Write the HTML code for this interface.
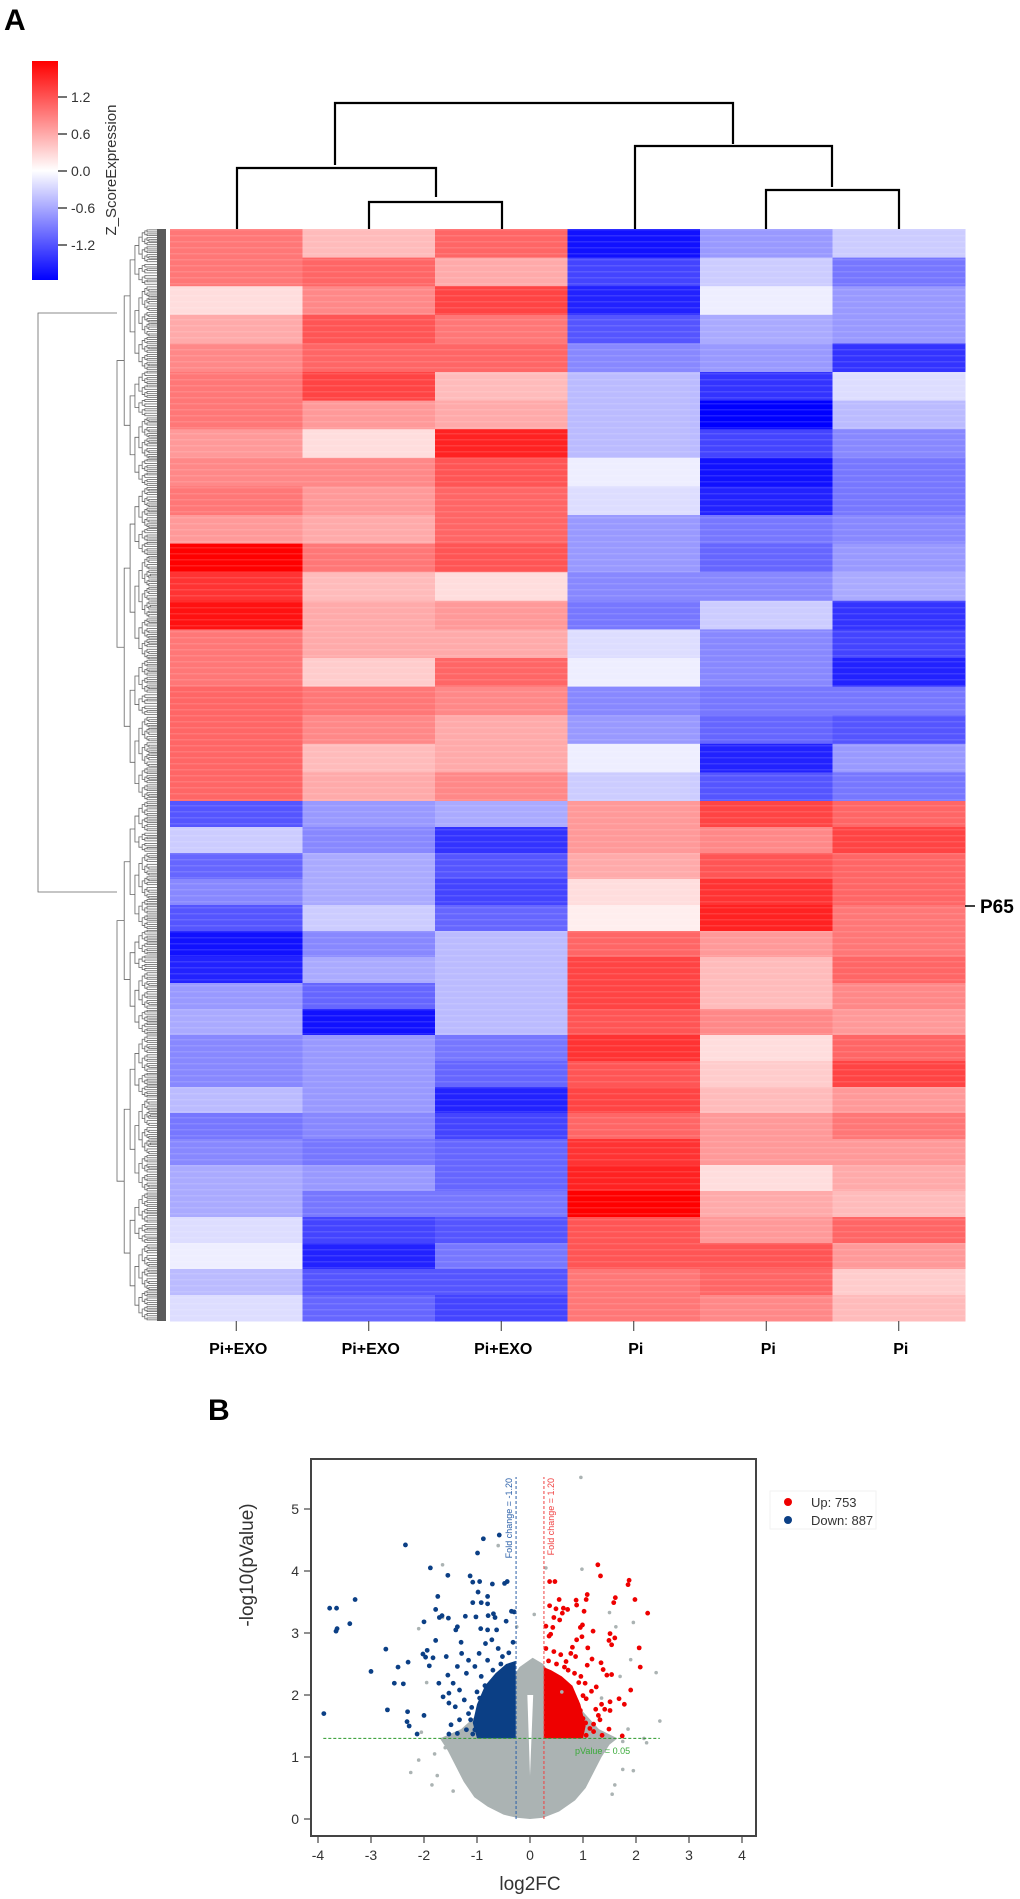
<!DOCTYPE html>
<html><head><meta charset="utf-8">
<style>
html,body{margin:0;padding:0;background:#fff;}
svg{display:block;font-family:"Liberation Sans",sans-serif;}
</style></head>
<body>
<svg id="fig" width="1020" height="1899" viewBox="0 0 1020 1899">
  <defs>
    <linearGradient id="cbGrad" x1="0" y1="0" x2="0" y2="1">
      <stop offset="0" stop-color="#ff0000"/>
      <stop offset="0.5" stop-color="#ffffff"/>
      <stop offset="1" stop-color="#0000ff"/>
    </linearGradient>
  </defs>
  <text x="4" y="30" font-size="30" font-weight="bold" fill="#000">A</text>
  <g>
    <rect x="32" y="61" width="26" height="219" fill="url(#cbGrad)"/>
    <g id="cbTicks"></g>
    <text transform="translate(116,170) rotate(-90)" text-anchor="middle" font-size="15" fill="#333">Z_ScoreExpression</text>
  </g>
  <g id="colDendro" stroke="#000" stroke-width="2.2" fill="none"></g>
  <g id="rowDendro" stroke="#666" stroke-width="0.8" fill="none"></g>
  <rect x="157" y="229" width="9" height="1092" fill="#5a5a5a"/>
  <g id="heat"></g>
  <g id="colLabels"></g>
  <line x1="965" y1="906" x2="975" y2="906" stroke="#000" stroke-width="1.5"/>
  <text x="980" y="913" font-size="19" font-weight="bold">P65</text>

  <text x="208" y="1420" font-size="30" font-weight="bold" fill="#000">B</text>
  <g id="volcano"></g>
</svg>
<script>
// ---------- Heatmap data ----------
const hmColumns = ["Pi+EXO","Pi+EXO","Pi+EXO","Pi","Pi","Pi"];
const hmTopCluster = [
 [0.8,0.8,0.2,0.5,0.7,0.8,0.8,0.6,0.7,0.8,0.6,1.5,1.2,1.4,0.8,0.8,0.9,0.9,0.9,0.9],
 [0.4,0.9,0.7,1.0,0.9,1.1,0.6,0.2,0.7,0.6,0.5,0.8,0.4,0.5,0.5,0.3,0.8,0.7,0.4,0.5],
 [0.9,0.5,1.1,0.8,0.9,0.4,0.5,1.3,1.0,0.9,0.9,1.0,0.2,0.6,0.5,0.9,0.7,0.5,0.5,0.7],
 [-1.4,-1.1,-1.3,-1.0,-0.7,-0.4,-0.4,-0.4,-0.1,-0.2,-0.6,-0.6,-0.7,-0.8,-0.2,-0.1,-0.7,-0.6,-0.1,-0.3],
 [-0.6,-0.3,-0.1,-0.5,-0.6,-1.2,-1.5,-1.1,-1.4,-1.3,-0.8,-0.9,-0.7,-0.3,-0.7,-0.7,-0.8,-0.9,-1.3,-1.0],
 [-0.3,-0.8,-0.6,-0.6,-1.2,-0.2,-0.4,-0.7,-0.8,-0.8,-0.7,-0.6,-0.5,-1.2,-1.1,-1.3,-0.8,-1.0,-0.6,-0.8]
];
const hmBottomCluster = [
 [-1.0,-0.3,-0.9,-0.7,-1.0,-1.4,-1.3,-0.6,-0.5,-0.7,-0.7,-0.4,-0.8,-0.7,-0.5,-0.5,-0.2,-0.1,-0.4,-0.2],
 [-0.6,-0.7,-0.5,-0.5,-0.3,-0.7,-0.5,-0.9,-1.4,-0.6,-0.6,-0.6,-0.7,-0.8,-0.6,-0.8,-1.1,-1.3,-1.0,-0.9],
 [-0.5,-1.2,-1.0,-1.1,-0.9,-0.4,-0.4,-0.4,-0.4,-0.8,-0.9,-1.3,-1.1,-0.9,-0.9,-0.8,-1.0,-0.8,-1.0,-1.1],
 [0.6,0.6,0.5,0.2,0.1,0.9,1.1,1.1,1.0,1.2,1.0,1.1,0.9,1.2,1.3,1.5,1.0,1.0,0.8,0.8],
 [1.1,0.7,1.0,1.2,1.3,0.6,0.4,0.4,0.7,0.2,0.3,0.4,0.6,0.6,0.2,0.5,0.6,1.0,0.9,0.7],
 [0.9,1.1,0.9,0.9,0.8,0.8,0.9,0.7,0.6,0.9,1.1,0.6,0.8,0.6,0.5,0.4,0.9,0.6,0.3,0.4]
];
const cbTickValues = [1.2,0.6,0.0,-0.6,-1.2];
const cbTickLabels = ["1.2","0.6","0.0","-0.6","-1.2"];

// ---------- Volcano data ----------
const xTicks = [-4,-3,-2,-1,0,1,2,3,4];
const yTicks = [0,1,2,3,4,5];
const downX = [-3.89,-3.78,-3.65,-3.66,-3.64,-3.30,-3.40,-3.00,-2.72,-2.69,-2.56,-2.49,-2.39,-2.35,-2.30,-2.31,-2.32,-2.28,-2.13,-2.00,-2.02,-1.97,-1.94,-2.00,-1.88,-1.83,-1.90,-1.78,-1.78,-1.74,-1.71,-1.66,-1.55,-1.54,-1.72,-1.64,-1.53,-1.58,-1.55,-1.37,-1.40,-1.30,-1.22,-1.13,-1.08,-0.95,-0.99,-0.98,-0.88,-0.71,-0.58,-0.48,-0.43,-1.08,-0.92,-0.80,-0.80,-1.02,-0.79,-0.69,-0.66,-0.35,-0.30,-0.93,-0.80,-0.63,-0.45,-1.29,-1.16,-1.37,-1.20,-1.45,-1.33,-1.53,-1.24,-1.41,-1.16,-1.33,-1.49,-1.20,-1.37,-1.53,-1.08,-0.96,-0.84,-0.72,-1.04,-0.92,-0.80,-0.60,-0.52,-1.04,-1.12,-0.85,-0.70,-0.55,-0.40,-0.32,-0.95,-1.10,-1.00];
const downY = [1.70,3.40,3.40,3.03,3.07,3.54,3.15,2.38,2.74,1.76,2.19,2.45,2.18,4.42,2.53,1.73,1.57,1.50,1.37,1.67,2.66,2.61,2.72,3.18,4.05,2.60,2.47,2.88,3.38,3.59,3.25,3.28,3.93,3.24,2.19,1.97,1.87,2.62,2.32,3.10,3.05,2.85,3.27,3.92,3.82,3.83,4.29,3.66,4.52,3.79,4.58,3.80,3.83,3.49,3.49,3.47,3.59,3.26,3.28,3.31,3.25,3.35,3.34,3.07,3.05,3.05,3.19,2.67,2.56,2.46,2.35,2.19,2.08,2.03,1.92,1.81,1.70,1.60,1.52,1.44,1.38,1.37,1.37,2.67,2.83,2.89,2.46,2.30,2.56,2.75,2.62,1.44,1.60,2.15,2.40,2.50,2.68,2.85,1.95,1.80,2.05];
const upX = [1.28,1.33,1.87,1.85,1.98,2.22,1.61,1.58,2.06,2.08,1.90,1.78,1.68,1.51,1.60,1.49,1.54,1.08,1.06,0.87,1.02,0.88,0.37,0.47,0.55,0.37,0.49,0.63,0.71,0.61,0.45,0.56,0.30,0.43,0.39,0.36,0.95,0.99,1.19,0.98,0.88,0.80,1.09,1.17,1.34,1.08,1.38,1.54,1.45,1.25,1.04,0.92,1.16,1.00,1.06,1.35,1.51,1.24,1.51,1.29,1.32,1.41,1.20,1.13,1.20,1.49,1.36,1.74,0.77,0.86,0.68,0.58,0.72,0.84,0.96,0.80,0.88,0.76,1.00,0.88,1.06,0.35,0.50,0.65,0.30,0.45,0.95,1.05];
const upY = [4.10,3.92,3.85,3.78,3.54,3.32,3.57,3.49,2.76,2.45,2.08,1.85,1.94,2.99,2.92,2.88,2.81,3.62,3.54,3.53,3.35,3.45,3.83,3.83,3.54,3.44,3.39,3.40,3.38,3.32,3.25,3.21,3.11,3.09,2.98,2.95,3.09,3.13,3.03,2.94,2.89,2.77,2.76,2.58,2.52,2.48,2.41,2.33,2.32,2.13,2.19,2.20,2.06,1.99,1.94,1.85,1.89,1.77,1.75,1.67,1.60,1.77,1.53,1.46,1.41,1.45,1.35,1.34,2.67,2.62,2.54,2.65,2.40,2.35,2.30,2.03,1.89,1.73,1.62,1.46,1.35,2.55,2.50,2.45,2.75,2.70,1.75,1.55];
const greyX = [0.96,-0.60,-1.65,0.98,0.30,2.38,2.45,1.95,-2.10,-1.65,1.50,1.62,1.90,1.70,-2.25,-1.85,1.95,1.75,-1.80,1.60,-2.10,2.20,0.08,-0.25,0.60,1.35,-1.95,1.40,-1.60,-1.75,1.75,1.85,-1.45,1.55,-2.05,2.15];
const greyY = [5.51,4.41,4.10,4.03,4.05,2.36,1.58,3.17,3.07,3.25,3.33,3.10,2.57,2.30,0.75,0.55,0.78,0.80,1.05,0.55,0.95,1.23,3.30,3.10,2.05,1.95,2.20,1.10,1.15,0.70,1.25,1.45,0.45,0.40,1.40,1.30];
const greyRegionX = [0,0.25,0.55,0.85,1.05,1.2,1.35,1.5,1.65,1.3,0.5,0.25,0.05,-0.2,-0.45,-1.3,-1.7,-1.55,-1.4,-1.25,-1.05,-0.8,-0.5,-0.25];
const greyRegionY = [0,0.02,0.12,0.3,0.5,0.75,1.0,1.2,1.3,1.45,2.2,2.5,2.6,2.45,2.1,1.45,1.3,1.1,0.85,0.6,0.35,0.2,0.07,0.02];
const downRegionX = [-0.27,-1.0,-1.08,-1.0,-0.85,-0.65,-0.45,-0.27];
const downRegionY = [1.3,1.3,1.55,1.85,2.15,2.35,2.5,2.55];
const upRegionX = [0.26,1.0,1.05,0.95,0.8,0.6,0.4,0.26];
const upRegionY = [1.3,1.3,1.5,1.85,2.15,2.3,2.4,2.45];
const pThreshold = 1.3;
const fcThreshold = 0.263;

const NS = "http://www.w3.org/2000/svg";
function mk(tag, attrs, parent){
  const e = document.createElementNS(NS, tag);
  for (const k in attrs) e.setAttribute(k, attrs[k]);
  parent.appendChild(e);
  return e;
}

// colorbar ticks
const cbG = document.getElementById('cbTicks');
const cbY = v => 171 - v * (74/1.2);
cbTickValues.forEach((v,i)=>{
  const l = mk('line',{x1:58,x2:67,y1:cbY(v),y2:cbY(v),stroke:'#444','stroke-width':1.5},cbG);
  
  
  const t = mk('text',{x:71,y:cbY(v)+5,'font-size':14,fill:'#333'},cbG);
  t.textContent = cbTickLabels[i];
  
  
});

// heatmap
function zColor(v){
  const t = Math.min(Math.abs(v)/1.5,1);
  const c = Math.round(255*(1-t));
  return v>=0 ? `rgb(255,${c},${c})` : `rgb(${c},${c},255)`;
}
const hmX0 = 170, hmX1 = 965, hmTop = 229, hmSplit = 801, hmBot = 1321;
const colW = (hmX1-hmX0)/hmColumns.length;
const heat = document.getElementById('heat');
function drawCluster(data, y0, y1){
  data.forEach((col,ci)=>{
    const h = (y1-y0)/col.length;
    col.forEach((v,ri)=>{
      const r = mk('rect',{x:hmX0+ci*colW, y:y0+ri*h, width:colW+0.5, height:h+0.5, fill:zColor(v)},heat);
      
      
    });
  });
}
drawCluster(hmTopCluster, hmTop, hmSplit);
drawCluster(hmBottomCluster, hmSplit, hmBot);
for (let y=hmTop; y<hmBot; y+=6){
  const s = mk('rect',{x:hmX0,y:y,width:hmX1-hmX0,height:1.5,fill:'#fff','fill-opacity':0.12},heat);
  
  
}

// column labels
const colLab = document.getElementById('colLabels');
hmColumns.forEach((name,i)=>{
  const cx = hmX0 + (i+0.5)*colW;
  const l = mk('line',{x1:cx,x2:cx,y1:1321,y2:1331,stroke:'#333','stroke-width':1},colLab);
  
  
  const t = mk('text',{x:cx+2,y:1354,'text-anchor':'middle','font-size':16,'font-weight':'bold'},colLab);
  t.textContent = name;
  
  
});

// column dendrogram
const cd = document.getElementById('colDendro');
const cdPaths = [
  "M335 165 V103 H733 V144",
  "M237 229 V168 H436 V197",
  "M369 229 V202 H502 V229",
  "M635 229 V146 H832 V187",
  "M766 229 V190 H899 V229"
];
cdPaths.forEach(d=>{
  const p = mk('path',{d:d},cd);
  
  
});

// row dendrogram
const rd = document.getElementById('rowDendro');
mk('path',{d:"M117 313 H38 V892 H117"},rd);
function tree(y0,y1,x,depth){
  if (y1-y0 < 3 || depth>9){ mk('line',{x1:x,x2:157,y1:(y0+y1)/2,y2:(y0+y1)/2},rd); return (y0+y1)/2; }
  const f = [0.45,0.55,0.4,0.6,0.5][depth%5];
  const m = y0 + (y1-y0)*f;
  const nx = x + (157-x)*0.18;
  const a = tree(y0,m,nx,depth+1), b = tree(m,y1,nx,depth+1);
  mk('path',{d:`M${nx} ${a} H${x} V${b} H${nx}`},rd);
  return (a+b)/2;
}
tree(229,801,117,0);
tree(801,1321,117,0);

// ---------- Volcano ----------
const vg = document.getElementById('volcano');
const px0 = 311, px1 = 756, py0 = 1459, py1 = 1836;
const xs = v => 530 + v*53;
const ys = v => 1819 - v*62;
const frame = mk('rect',{x:px0,y:py0,width:px1-px0,height:py1-py0,fill:'none',stroke:'#444','stroke-width':2},vg);


xTicks.forEach(v=>{
  const l = mk('line',{x1:xs(v),x2:xs(v),y1:py1,y2:py1+7,stroke:'#444','stroke-width':1.2},vg);
  
  
  const t = mk('text',{x:xs(v),y:1860,'text-anchor':'middle','font-size':14,fill:'#333'},vg);
  t.textContent = String(v);
  
  
});
yTicks.forEach(v=>{
  const l = mk('line',{x1:px0-7,x2:px0,y1:ys(v),y2:ys(v),stroke:'#444','stroke-width':1.2},vg);
  
  
  const t = mk('text',{x:px0-12,y:ys(v)+5,'text-anchor':'end','font-size':14,fill:'#333'},vg);
  t.textContent = String(v);
  
  
});
const xt = mk('text',{x:530,y:1890,'text-anchor':'middle','font-size':19,fill:'#333'},vg);
xt.textContent = 'log2FC';


const yt = mk('text',{transform:'translate(253,1565) rotate(-90)','text-anchor':'middle','font-size':19,fill:'#333'},vg);
yt.textContent = '-log10(pValue)';



function poly(X,Y,fill,name){
  const pts = X.map((x,i)=>xs(x)+','+ys(Y[i])).join(' ');
  const p = mk('polygon',{points:pts,fill:fill},vg);
  
  
}
poly(greyRegionX,greyRegionY,'#abb3b3','not-significant-cloud');
const gap = mk('polygon',{points:`${xs(0)},${ys(0.7)} ${xs(0.06)},${ys(2.0)} ${xs(-0.05)},${ys(2.0)}`,fill:'#fff'},vg);


poly(downRegionX,downRegionY,'#0b3f85','down-dense-region');
poly(upRegionX,upRegionY,'#ee0000','up-dense-region');
function dots(X,Y,fill,name,r){
  X.forEach((x,i)=>{
    const c = mk('circle',{cx:xs(x),cy:ys(Y[i]),r:r,fill:fill},vg);
    
    
  });
}
dots(greyX,greyY,'#abb3b3','ns-point',1.8);
dots(downX,downY,'#0b3f85','down-point',2.4);
dots(upX,upY,'#ee0000','up-point',2.4);

// thresholds
const lb = mk('line',{x1:xs(-fcThreshold),x2:xs(-fcThreshold),y1:ys(0),y2:1477,stroke:'#2a5fa8','stroke-width':1,'stroke-dasharray':'3,2'},vg);


const lr = mk('line',{x1:xs(fcThreshold),x2:xs(fcThreshold),y1:ys(0),y2:1477,stroke:'#f04040','stroke-width':1,'stroke-dasharray':'3,2'},vg);


const lg = mk('line',{x1:xs(-3.9),x2:xs(2.45),y1:ys(pThreshold),y2:ys(pThreshold),stroke:'#2a9a2a','stroke-width':1,'stroke-dasharray':'3,2'},vg);


const tb = mk('text',{transform:`translate(${xs(-fcThreshold)-4},1478) rotate(-90)`,'text-anchor':'end','font-size':9,fill:'#2a5fa8'},vg);
tb.textContent = 'Fold change = -1.20';


const tr = mk('text',{transform:`translate(${xs(fcThreshold)+10},1478) rotate(-90)`,'text-anchor':'end','font-size':9,fill:'#f04040'},vg);
tr.textContent = 'Fold change = 1.20';


const tg = mk('text',{x:xs(0.85),y:ys(1.05),'font-size':9,fill:'#3aaa3a'},vg);
tg.textContent = 'pValue = 0.05';



// legend
const lgBox = mk('rect',{x:770,y:1491,width:106,height:38,fill:'#fff',stroke:'#f2f2f2'},vg);


const legendItems = [["Up: 753","#ee0000",1502],["Down: 887","#0b3f85",1520]];
legendItems.forEach(it=>{
  const c = mk('circle',{cx:788,cy:it[2],r:4,fill:it[1]},vg);
  
  
  const t = mk('text',{x:811,y:it[2]+5,'font-size':13,fill:'#333'},vg);
  t.textContent = it[0];
  
  
});
</script>
</body></html>
